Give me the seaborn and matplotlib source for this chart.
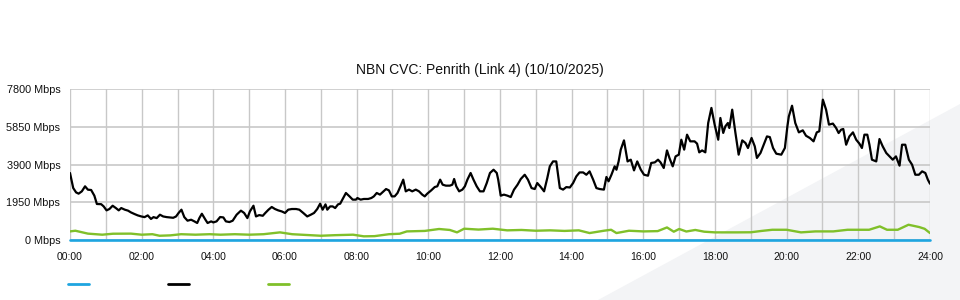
import matplotlib
matplotlib.use("Agg")
import matplotlib.pyplot as plt
import seaborn as sns
import pandas as pd
from matplotlib.lines import Line2D
from matplotlib.patches import Polygon
from matplotlib.ticker import FixedLocator

# ---- data (hours since midnight, Mbps) ----
black_t = [0.0, 0.09, 0.17, 0.24, 0.33, 0.42, 0.5, 0.59, 0.68, 0.75, 0.87, 0.94, 1.02, 1.1, 1.19,
           1.28, 1.36, 1.43, 1.53, 1.62, 1.7, 1.8, 1.89, 1.99, 2.08, 2.17, 2.26, 2.33, 2.42, 2.51,
           2.6, 2.7, 2.79, 2.88, 2.96, 3.03, 3.11, 3.19, 3.28, 3.38, 3.47, 3.55, 3.61, 3.68, 3.78,
           3.84, 3.94, 4.0, 4.09, 4.19, 4.28, 4.35, 4.45, 4.54, 4.65, 4.77, 4.86, 4.95, 5.02, 5.12,
           5.19, 5.28, 5.38, 5.45, 5.54, 5.63, 5.72, 5.81, 5.91, 6.0, 6.09, 6.19, 6.31, 6.4, 6.51,
           6.62, 6.72, 6.81, 6.9, 6.98, 7.05, 7.13, 7.18, 7.26, 7.33, 7.4, 7.48, 7.54, 7.61, 7.7,
           7.8, 7.89, 7.98, 8.02, 8.11, 8.2, 8.32, 8.41, 8.48, 8.56, 8.65, 8.75, 8.82, 8.9, 8.98,
           9.06, 9.14, 9.23, 9.3, 9.37, 9.46, 9.55, 9.65, 9.74, 9.83, 9.9, 9.97, 10.08, 10.18,
           10.25, 10.33, 10.4, 10.49, 10.6, 10.67, 10.72, 10.78, 10.86, 10.95, 11.02, 11.09,
           11.18, 11.26, 11.35, 11.44, 11.54, 11.63, 11.72, 11.82, 11.91, 11.95, 12.02, 12.11,
           12.21, 12.3, 12.39, 12.49, 12.58, 12.69, 12.78, 12.88, 12.97, 13.04, 13.14, 13.23,
           13.32, 13.39, 13.48, 13.57, 13.67, 13.76, 13.85, 13.95, 14.04, 14.13, 14.22, 14.32,
           14.41, 14.5, 14.6, 14.69, 14.78, 14.9, 14.97, 15.03, 15.11, 15.2, 15.25, 15.31, 15.37,
           15.46, 15.56, 15.65, 15.74, 15.83, 15.93, 16.02, 16.13, 16.22, 16.32, 16.41, 16.48,
           16.57, 16.66, 16.73, 16.82, 16.9, 16.99, 17.06, 17.14, 17.22, 17.31, 17.43, 17.5,
           17.56, 17.64, 17.73, 17.81, 17.9, 17.99, 18.09, 18.15, 18.23, 18.29, 18.36, 18.4,
           18.48, 18.57, 18.66, 18.76, 18.85, 18.92, 19.02, 19.11, 19.17, 19.27, 19.36, 19.45,
           19.53, 19.62, 19.71, 19.85, 19.95, 20.02, 20.06, 20.15, 20.24, 20.34, 20.45, 20.54,
           20.65, 20.75, 20.84, 20.91, 21.01, 21.1, 21.18, 21.29, 21.38, 21.45, 21.52, 21.58,
           21.66, 21.75, 21.85, 21.94, 22.03, 22.1, 22.17, 22.25, 22.31, 22.38, 22.5, 22.59,
           22.68, 22.78, 22.87, 22.96, 23.05, 23.15, 23.22, 23.31, 23.41, 23.5, 23.59, 23.69,
           23.78, 23.87, 23.94, 24.0]
black_v = [3470, 2690, 2465, 2400, 2520, 2780, 2605, 2590, 2295, 1865, 1855, 1740, 1535, 1605, 1775,
           1655, 1535, 1655, 1570, 1520, 1430, 1345, 1275, 1220, 1185, 1275, 1090, 1185, 1135, 1310,
           1220, 1185, 1170, 1150, 1220, 1400, 1570, 1185, 1000, 1050, 965, 880, 1135, 1360, 1050,
           880, 965, 910, 965, 1190, 1170, 965, 930, 1000, 1310, 1520, 1400, 1135, 1480, 1775,
           1220, 1290, 1255, 1400, 1570, 1710, 1605, 1535, 1480, 1400, 1570, 1605, 1605, 1570, 1400,
           1220, 1310, 1400, 1605, 1880, 1570, 1845, 1570, 1740, 1740, 1655, 1845, 1880, 2125, 2435,
           2260, 2090, 2090, 2175, 2090, 2125, 2125, 2175, 2260, 2435, 2350, 2520, 2640, 2570, 2260,
           2260, 2435, 2815, 3125, 2520, 2610, 2520, 2610, 2520, 2350, 2260, 2400, 2570, 2745,
           2780, 3125, 2865, 2815, 2815, 2865, 3160, 2780, 2520, 2610, 2780, 3125,
           3470, 3125, 2780, 2520, 2520, 2950, 3470, 3640, 3470, 3125, 2295, 2350,
           2295, 2225, 2605, 2865, 3160, 3380, 3125, 2690, 2640, 2950, 2740, 2520,
           3210, 3815, 4070, 4070, 2690, 2610, 2740, 2720, 2950, 3295, 3500, 3500,
           3380, 3555, 3125, 2690, 2640, 2610, 3265, 3040, 3380, 3815, 3640, 4070, 4680,
           5160, 4070, 4160, 3605, 4070, 3640, 3380, 3330, 3990, 4020, 4160, 4020,
           3730, 4640, 4240, 3815, 4330, 4420, 5195, 4680, 5455, 5110, 5110, 4990,
           4540, 4640, 4540, 6060, 6840, 5975, 5195, 6320, 5545, 5890, 6060, 5800,
           6750, 5545, 4420, 5160, 5025, 4765, 5285, 4850, 4250, 4510, 4935, 5365,
           5330, 4765, 4470, 4420, 4765, 5885, 6400, 6955, 6060, 5575, 5680, 5400,
           5280, 5110, 5575, 5630, 7270, 6750, 5975, 6030, 5800, 5540, 5715, 5750,
           4935, 5365, 5575, 5195, 4990, 4765, 5455, 5455, 4935, 4160, 4070, 5230,
           4850, 4505, 4330, 4160, 4330, 3850, 4935, 4935, 4160, 3900, 3380, 3380,
           3555, 3470, 3125, 2915]

green_t = [0.0, 0.15, 0.5, 0.9, 1.2, 1.7, 2.0, 2.3, 2.5, 2.8, 3.1, 3.5, 3.9, 4.2, 4.6, 5.0, 5.4,
           5.86, 6.2, 6.6, 7.0, 7.4, 7.9, 8.2, 8.5, 8.9, 9.2, 9.4, 9.9, 10.3, 10.6, 10.8, 11.0,
           11.4, 11.8, 12.2, 12.6, 13.0, 13.4, 13.8, 14.2, 14.5, 14.9, 15.1, 15.25, 15.6, 16.0,
           16.4, 16.66, 16.85, 17.0, 17.2, 17.45, 17.7, 18.0, 18.6, 19.0, 19.3, 19.6, 20.0, 20.4,
           20.8, 21.3, 21.7, 22.3, 22.6, 22.8, 23.1, 23.4, 23.7, 23.85, 24.0]
green_v = [445, 480, 330, 275, 325, 330, 275, 300, 220, 240, 300, 275, 300, 275, 300, 275, 300,
           395, 300, 260, 220, 250, 275, 190, 200, 300, 325, 445, 470, 570, 520, 395, 585,
           540, 585, 500, 520, 480, 500, 470, 500, 360, 480, 530, 360, 480, 445,
           460, 650, 430, 570, 440, 520, 430, 395, 395, 400, 470, 530, 530, 395,
           445, 445, 530, 530, 705, 530, 530, 790, 670, 580, 360]

blue_t = [0.0, 6.0, 12.0, 18.0, 24.0]
blue_v = [10, 10, 10, 10, 10]

y_ticks = [0, 1950, 3900, 5850, 7800]
y_labels = ["0 Mbps", "1950 Mbps", "3900 Mbps", "5850 Mbps", "7800 Mbps"]
x_ticks = list(range(0, 25, 2))
x_labels = ["%02d:00" % h for h in x_ticks]
title = "NBN CVC: Penrith (Link 4) (10/10/2025)"

BLUE = "#1ea5e0"
BLACK = "#000000"
GREEN = "#80c02a"
GRID = "#c8c8c8"
WATERMARK = "#f3f4f6"

sns.set_style("white")
plt.rcParams["font.family"] = ["Liberation Sans", "DejaVu Sans"]

fig = plt.figure(figsize=(9.6, 3.0), dpi=100)

# faint background watermark wedge (figure fraction, origin bottom-left), behind everything
wedge = Polygon([(598 / 960, 0), (960 / 960, 196 / 300), (1, 0)], closed=True,
                transform=fig.transFigure, facecolor=WATERMARK, edgecolor="none", zorder=-5)
fig.add_artist(wedge)

ax = fig.add_axes([70 / 960, 60 / 300, 860 / 960, 150.6 / 300])
ax.set_zorder(1)
ax.set_facecolor("none")
ax.patch.set_alpha(0)

df_b = pd.DataFrame({"t": blue_t, "v": blue_v})
df_k = pd.DataFrame({"t": black_t, "v": black_v})
df_g = pd.DataFrame({"t": green_t, "v": green_v})

sns.lineplot(data=df_g, x="t", y="v", ax=ax, color=GREEN, lw=1.7, zorder=3)
sns.lineplot(data=df_k, x="t", y="v", ax=ax, color=BLACK, lw=1.6, zorder=4)
sns.lineplot(data=df_b, x="t", y="v", ax=ax, color=BLUE, lw=1.9, zorder=5, clip_on=False)

ax.set_xlim(0, 24)
ax.set_ylim(0, 7800)
ax.set_xticks(x_ticks)
ax.set_xticklabels(x_labels)
ax.xaxis.set_minor_locator(FixedLocator(list(range(0, 25))))
ax.set_yticks(y_ticks)
ax.set_yticklabels(y_labels)
ax.set_xlabel("")
ax.set_ylabel("")

ax.grid(True, which="both", axis="x", color=GRID, lw=1.0)
ax.grid(True, which="major", axis="y", color=GRID, lw=1.2)
for s in ax.spines.values():
    s.set_visible(False)
ax.tick_params(axis="x", which="both", length=5, color=GRID, width=1.0, pad=4,
               labelsize=7.5, labelcolor="#111111")
ax.tick_params(axis="y", which="both", length=0, pad=7, labelsize=7.8, labelcolor="#111111")

fig.text(480 / 960, 1 - 70 / 300, title, ha="center", va="center", fontsize=10, color="#111111")

handles = [Line2D([], [], color=c, lw=2) for c in (BLUE, BLACK, GREEN)]
fig.legend(handles, ["", "", ""], ncol=3, frameon=False, loc="center left",
           bbox_to_anchor=(68 / 960, 15 / 300), handlelength=1.9, handletextpad=0.0,
           columnspacing=7.1, borderpad=0, borderaxespad=0, fontsize=8)

fig.savefig("out.png", dpi=100)
